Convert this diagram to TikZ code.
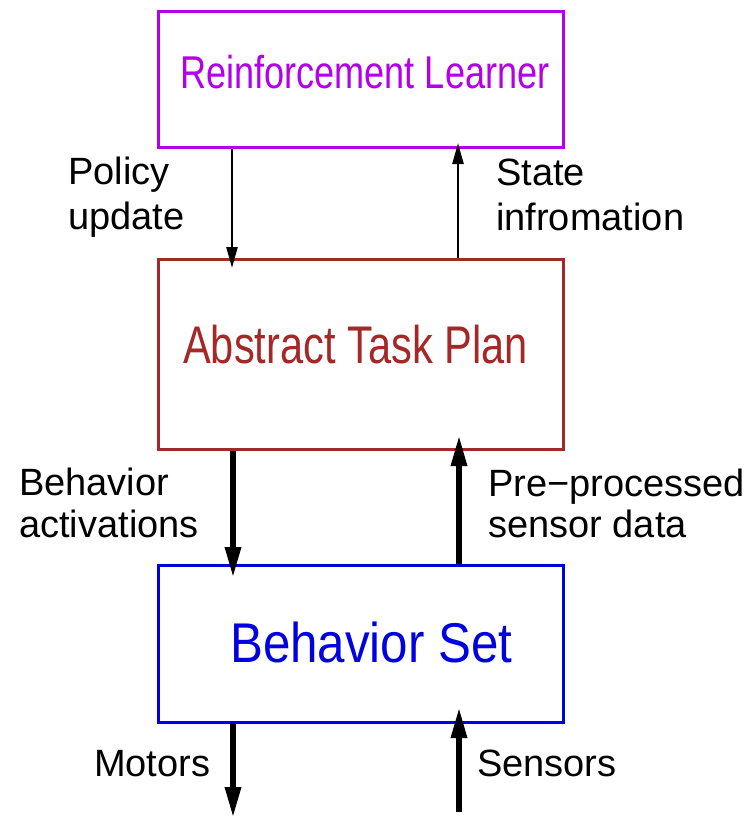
\documentclass[tikz,border=0pt]{standalone}
\usepackage{graphicx}
\usepackage{fontspec}
\setmainfont{Liberation Sans}
\usetikzlibrary{arrows.meta}
\definecolor{rlc}{RGB}{178,0,235}
\definecolor{atpc}{RGB}{165,40,40}
\definecolor{bsc}{RGB}{0,0,225}
\begin{document}
\begin{tikzpicture}[x=1pt,y=-1pt,
  boxst/.style={draw, line width=3pt, inner sep=0pt, anchor=north west, minimum width=405pt},
  titlest/.style={inner sep=0pt, anchor=base west},
  labst/.style={inner sep=0pt, anchor=base west, font=\fontsize{38}{44}\selectfont},
  thinarr/.style={line width=2.5pt, -{Triangle[length=21pt,width=11pt]}},
  thickarr/.style={line width=6pt, -{Triangle[length=31pt,width=15pt]}}]
\useasboundingbox (0,0) rectangle (746,820);
% boxes
\node[boxst, draw=rlc, minimum height=136pt] (rl) at (157,10) {};
\node[boxst, draw=atpc, minimum height=190pt] (atp) at (157,258) {};
\node[boxst, draw=bsc, minimum height=157pt] (bs) at (157,564) {};
% titles
\node[titlest, text=rlc, font=\fontsize{46}{50}\selectfont] (rlt) at (180,88) {\scalebox{0.785}[1]{Reinforcement Learner}};
\node[titlest, text=atpc, font=\fontsize{53}{58}\selectfont] (atpt) at (183,363) {\scalebox{0.785}[1]{Abstract Task Plan}};
\node[titlest, text=bsc, font=\fontsize{56}{60}\selectfont] (bst) at (230,662) {\scalebox{0.88}[1]{Behavior Set}};
% arrow columns
\coordinate (xl) at (232,0);
\coordinate (xr) at (458,0);
\coordinate (xl2) at (233,0);
\coordinate (xr2) at (459,0);
\coordinate (motend) at (233,818);
\coordinate (senstart) at (459,812);
% arrows
\draw[thinarr] (rl.south -| xl) -- ([yshift=-10pt]atp.north -| xl);
\draw[thinarr] (atp.north -| xr) -- ([yshift=6pt]rl.south -| xr);
\draw[thickarr] (atp.south -| xl2) -- ([yshift=-14pt]bs.north -| xl2);
\draw[thickarr] (bs.north -| xr2) -- ([yshift=16pt]atp.south -| xr2);
\draw[thickarr] (bs.south -| xl2) -- (motend);
\draw[thickarr] (senstart) -- ([yshift=17pt]bs.south -| xr2);
% labels
\node[labst] (pol1) at (68,184) {Policy};
\node[labst] (pol2) at (68,229) {update};
\node[labst] (st1) at (496,185) {State};
\node[labst] (st2) at (496,230) {infromation};
\node[labst] (ba1) at (19,495) {Behavior};
\node[labst] (ba2) at (19,537) {activations};
\node[labst] (pp1) at (488,496) {Pre−processed};
\node[labst] (pp2) at (488,537) {sensor data};
\node[labst] (mot) at (94,776) {Motors};
\node[labst] (sen) at (477,776) {Sensors};
\end{tikzpicture}
\end{document}
